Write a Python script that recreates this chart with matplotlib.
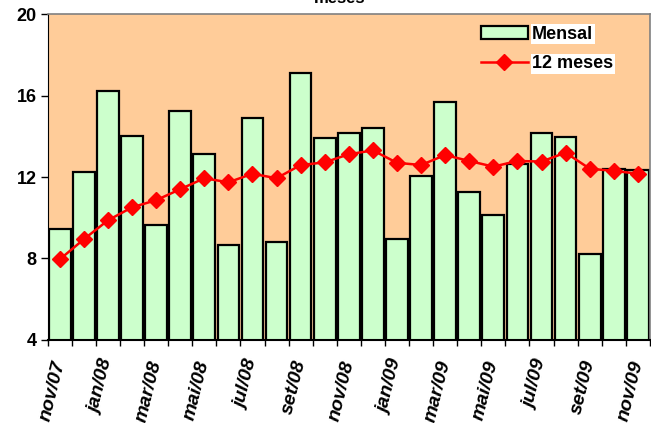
import matplotlib
matplotlib.use("Agg")
import matplotlib.pyplot as plt
import numpy as np

plt.rcParams['font.family'] = ['Liberation Sans', 'DejaVu Sans']

months = ["nov/07", "dez/07", "jan/08", "fev/08", "mar/08", "abr/08", "mai/08", "jun/08",
          "jul/08", "ago/08", "set/08", "out/08", "nov/08", "dez/08", "jan/09", "fev/09",
          "mar/09", "abr/09", "mai/09", "jun/09", "jul/09", "ago/09", "set/09", "out/09", "nov/09"]
mensal = [9.43, 12.23, 16.24, 14.03, 9.64, 15.25, 13.15, 8.66, 14.89, 8.79, 17.10, 13.93,
          14.18, 14.40, 8.95, 12.05, 15.70, 11.28, 10.15, 12.63, 14.18, 13.98, 8.23, 12.40, 12.35]
doze_meses = [7.95, 8.94, 9.87, 10.51, 10.86, 11.40, 11.94, 11.74, 12.16, 11.94, 12.59, 12.72,
              13.12, 13.31, 12.70, 12.59, 13.08, 12.79, 12.51, 12.79, 12.76, 13.20, 12.41, 12.30, 12.17]
yticks = [4, 8, 12, 16, 20]

fig = plt.figure(figsize=(6.51, 4.23), dpi=100)
ax = fig.add_axes([0.0733, 0.197, 0.925, 0.769])
ax.set_facecolor('#FFCC99')

x = np.arange(len(months))
bars = ax.bar(x, mensal, width=0.9, bottom=0, color='#CCFFCC', edgecolor='black', linewidth=1.6,
              label='Mensal', zorder=2)
line, = ax.plot(x, doze_meses, color='#FF0000', linewidth=1.8, marker='D', markersize=8,
                markeredgecolor='#FF0000', label='12 meses', zorder=3)

ax.set_ylim(4, 20)
ax.set_xlim(-0.5, len(months) - 0.5)
ax.set_yticks(yticks)
ax.set_yticklabels([str(v) for v in yticks], fontsize=13, fontweight='bold')
ax.tick_params(axis='y', length=5, width=1, direction='out', pad=3)

# minor ticks at category boundaries, labels every other month
ax.set_xticks(np.arange(-0.5, len(months), 1.0), minor=True)
ax.set_xticks(x[::2])
ax.set_xticklabels(months[::2], rotation=76, ha='right', va='center', rotation_mode='anchor',
                   fontsize=14, fontweight='bold', fontstyle='italic')
ax.tick_params(axis='x', which='major', length=0, pad=15)
ax.tick_params(axis='x', which='minor', length=4, width=1, direction='out')

for s in ['top', 'right']:
    ax.spines[s].set_color('#808080')
    ax.spines[s].set_linewidth(1.2)
ax.spines['left'].set_color('black')
ax.spines['bottom'].set_color('black')
ax.spines['bottom'].set_linewidth(1.5)

leg = ax.legend(handles=[bars, line], labels=['Mensal', '12 meses'],
                loc='upper left', bbox_to_anchor=(0.692, 1.015), frameon=False,
                prop={'weight': 'bold', 'size': 13}, handlelength=2.6, handletextpad=0.25,
                labelspacing=0.7)
for t in leg.get_texts():
    t.set_bbox(dict(facecolor='white', edgecolor='none', pad=1))

fig.text(0.522, 0.986, "meses", ha='center', va='bottom', fontsize=12, fontweight='bold')

fig.savefig('out.png', dpi=100)
